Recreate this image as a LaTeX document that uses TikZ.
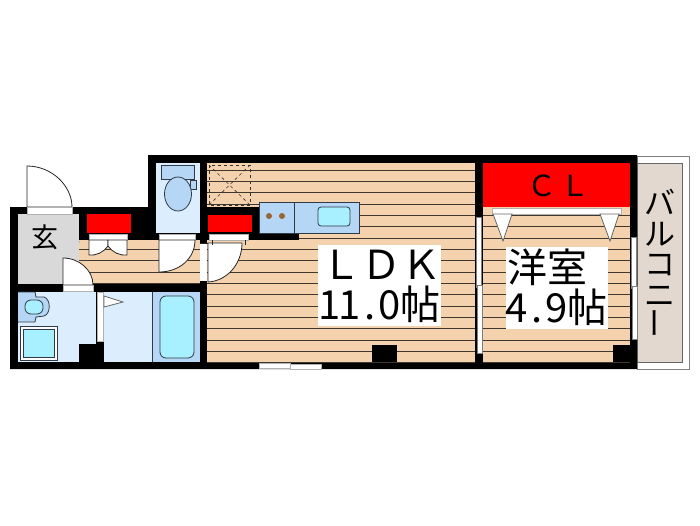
\documentclass[tikz,border=0pt]{standalone}
\usepackage{fontspec}
\usepackage{graphicx}
\newfontfamily\jp{Noto Sans CJK JP}
\definecolor{floorc}{HTML}{F5D2AE}
\definecolor{linec}{HTML}{40382F}
\definecolor{wetc}{HTML}{DCEEFD}
\definecolor{bluec}{HTML}{B5D7F5}
\definecolor{tealc}{HTML}{A8EFFF}
\definecolor{balc}{HTML}{E2D8CF}
\definecolor{redc}{HTML}{FF0000}
\definecolor{edgec}{HTML}{2F3A45}
\tikzset{
  wallc/.style={fill=black,draw=none},
  floorarea/.style={fill=floorc,draw=none},
  fixture/.style={draw=edgec,line width=0.8pt},
  doorleaf/.style={fill=white,draw=black!85,line width=0.8pt},
  strip/.style={fill=white,draw=gray!60,line width=0.4pt},
  redbox/.style={fill=redc,draw=none},
  labelbox/.style={fill=white,draw=none},
  big/.style={font=\jp\fontsize{40}{44}\selectfont,inner sep=0pt,text=black},
}
\newcommand\hw[1]{\makebox[20pt][c]{#1}}
\newcommand\hatchlines[4]{%
  \begin{scope}
    \clip (#1,#2) rectangle (#3,#4);
    \foreach \k in {0,...,18}{\draw[linec,line width=0.9pt] (#1,158.67+11.33*\k) -- (#3,158.67+11.33*\k);}
  \end{scope}}
\begin{document}
\begin{tikzpicture}[x=1pt,y=-1pt]
\useasboundingbox (0,0) rectangle (700,525);
\fill[white] (0,0) rectangle (700,525);
% balcony
\draw[gray,line width=0.8pt,fill=white] (637,156) rectangle (689,369);
\draw[gray!80!black,line width=0.8pt,fill=balc] (637,163) rectangle (682,362);
% wall silhouette
\fill[wallc] (10,207) -- (148,207) -- (148,155) -- (637,155) -- (637,369) -- (10,369) -- cycle;
% floors
\fill[floorarea] (207,163) rectangle (475,362);
\hatchlines{207}{163}{475}{362}
\fill[floorarea] (483,207) rectangle (630,362);
\hatchlines{483}{214}{630}{362}
\begin{scope}
  \clip (80,240) -- (200,240) -- (200,284) -- (60,284) -- (75,258) -- cycle;
  \fill[floorarea] (60,240) rectangle (200,284);
  \hatchlines{60}{240}{200}{284}
\end{scope}
% LDK upper-left wall block, kitchen
\fill[wallc] (207,207) rectangle (259,240);
\fill[wallc] (259,233) rectangle (299,240);
\draw[black!80,dashed,line width=0.8pt] (209,165) rectangle (250,205);
\draw[black!80,dashed,line width=0.6pt] (209,165) -- (250,205) (250,165) -- (209,205);
\fill[redbox] (207.5,215) rectangle (252,232);
\draw[strip] (209,234) rectangle (248,240);
\draw[fixture,fill=bluec] (259,202) rectangle (359,233);
\draw[fixture] (294,202) -- (294,233);
\fill[brown!80!black] (269,216) circle (3);
\fill[brown!80!black] (282,216) circle (3);
\draw[fixture,fill=tealc,rounded corners=3pt] (318,207) rectangle (350,226);
% LDK door
\fill[white] (200,243) rectangle (207,281);
\draw[doorleaf] (208,243) -- (242,243) .. controls (242,264) and (227,281) .. (208,282) -- cycle;
\draw[black!85,line width=0.6pt] (200,243) -- (208,243);
\draw[black!85,line width=0.6pt] (212,240) -- (212,245) (245,240) -- (245,245);
% LDK pillar and window
\fill[wallc] (372,345) rectangle (397,362);
\draw[strip,fill=white] (259,363) rectangle (290,368);
\draw[strip,fill=white] (290,364) rectangle (321,369);
% CL
\fill[redbox] (483,163) rectangle (630,207);
\draw[strip] (492,208) rectangle (621,214);
\draw[doorleaf,draw=black!60] (493,214) -- (512,214) -- (503,241) -- cycle;
\draw[doorleaf,draw=black!60] (600,214) -- (619,214) -- (610,241) -- cycle;
\fill[wallc] (613,345) rectangle (630,362);
% partition sliding doors
\draw[strip,draw=gray] (476,217) rectangle (481,287);
\draw[strip,draw=gray] (477,285) rectangle (482,353);
\draw[strip,draw=gray] (631,237) rectangle (636,288);
\draw[strip,draw=gray] (632,286) rectangle (637,339);
% toilet
\fill[wetc] (156,163) rectangle (200,233);
\draw[fixture,fill=bluec] (161,165) rectangle (194,179);
\draw[fixture,fill=bluec] (190,180) rectangle (196,189);
\draw[fixture,fill=bluec] (178,194) ellipse (13.5 and 17);
\draw[strip] (159,234) rectangle (195,240);
\draw[doorleaf] (159,240) -- (195,240) .. controls (195,258) and (180,272) .. (159,272) -- cycle;
% entrance
\fill[black!15] (18,214) rectangle (79,284);
\fill[black!15] (79,240) -- (80,240) -- (75,258) -- (75,284) -- (70,284) -- cycle;
\draw[doorleaf] (27,207) -- (27,166) .. controls (52,166) and (72,186) .. (72,207) -- cycle;
\draw[strip] (27,207) rectangle (72,214);
\draw[doorleaf] (63,285) -- (63,258) .. controls (79,258) and (93,270) .. (93,285) -- cycle;
\draw[strip] (63,285) rectangle (93,291);
% shoe cupboard
\fill[redbox] (87,214) rectangle (131,233);
\draw[strip] (89,234) rectangle (127,240);
\draw[doorleaf] (89,240) -- (108,240) -- (108,246) .. controls (104,252) and (96,256) .. (89,255) -- cycle;
\draw[doorleaf] (127,240) -- (108,240) -- (108,246) .. controls (112,252) and (120,256) .. (127,255) -- cycle;
% wash room
\fill[wetc] (18,292) rectangle (96,362);
\fill[wallc] (79,344) rectangle (104,362);
\draw[fixture,fill=bluec] (18,292) -- (35,292) -- (36,297) -- (44,297) .. controls (51,299) and (51,314) .. (44,316) -- (36,317) -- (35,322) -- (18,322);
\draw[fixture,fill=tealc,rounded corners=6pt] (25,300) rectangle (43,314);
\draw[fixture,fill=white] (20,326) rectangle (57,360);
\draw[fixture,fill=tealc] (23,329) rectangle (54,357);
% bath
\fill[strip] (97,292) rectangle (103,341);
\fill[wetc] (104,292) rectangle (152,362);
\fill[bluec] (152,292) rectangle (200,362);
\draw[edgec,line width=0.6pt] (152,292) -- (152,362);
\draw[fixture,fill=tealc,rounded corners=6pt] (160,296) rectangle (194,358);
\draw[doorleaf,draw=black!60] (104,296) -- (123,302) -- (104,307) -- cycle;
% labels
\node[labelbox,minimum width=123pt,minimum height=81pt,inner sep=0pt] (ldkbox) at (379.5,285.5) {};
\node[labelbox,minimum width=102pt,minimum height=82pt,inner sep=0pt] (roombox) at (557,288) {};
\node[big] (ldk) at (381,264.5) {ＬＤＫ};
\node[big] (ldkarea) at (380,304.5) {\hw{1}\hw{1}\hw{.}\hw{0}帖};
\node[big] (room) at (547,267.5) {洋室};
\node[big] (roomarea) at (557,307.5) {\hw{4}\hw{.}\hw{9}帖};
\node[font=\jp\fontsize{29}{30}\selectfont,inner sep=0pt] (cl) at (558.5,185.5) {\makebox[33pt][c]{Ｃ}\makebox[33pt][c]{Ｌ}};
\node[font=\jp\fontsize{27}{28}\selectfont,inner sep=0pt] (gen) at (45,237) {玄};
\node[font=\jp\fontsize{31}{30.5}\selectfont,inner sep=0pt,align=center] (bal) at (660,264) {バ\\ル\\コ\\ニ\\\rotatebox{90}{ー}};
\end{tikzpicture}
\end{document}
